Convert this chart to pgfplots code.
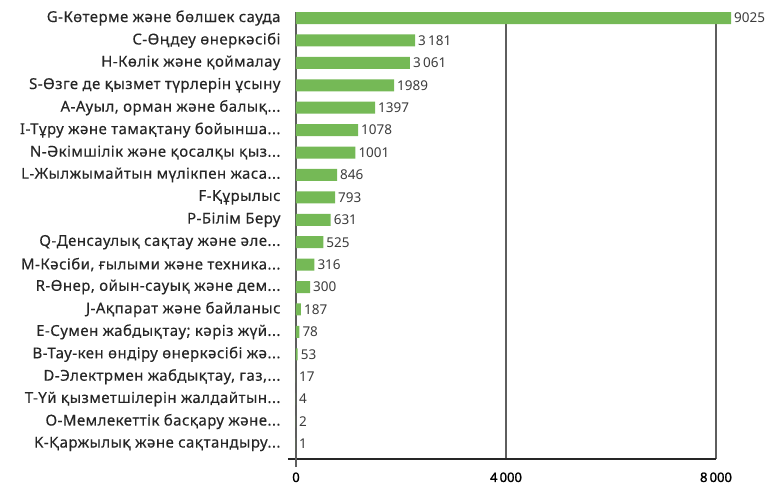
\documentclass[border=0pt]{standalone}
\usepackage{fontspec}
\setmainfont{Noto Sans}
\newfontfamily\catfont[LetterSpace=3, FakeBold=0.3]{Noto Sans}
\newfontfamily\tickfont[FakeBold=1.5]{Noto Sans}
\usepackage{pgfplots}
\pgfplotsset{compat=1.18}
\definecolor{barGreen}{HTML}{75B956}
\definecolor{gridGray}{HTML}{5E5E5E}
\definecolor{labelGray}{HTML}{3C3C3C}
\definecolor{catBlack}{HTML}{262626}
\newcommand{\el}{...}

\begin{document}
\begin{tikzpicture}
\begin{axis}[
  at={(0,0)}, anchor=south west,
  scale only axis,
  width=420pt, height=447pt,
  xmin=0, xmax=8000,
  ymin=-0.67, ymax=19.27,
  xbar, bar width=12pt, bar shift=0pt,
  axis x line*=bottom, axis y line*=left,
  x axis line style={black!85, line width=1.1pt, -, shorten <=-8pt},
  y axis line style={gridGray, line width=1.1pt, -, shorten <=-8pt},
  xtick={0,4000,8000},
  xticklabels={0, 4\,000, 8\,000},
  xticklabel style={font=\tickfont\fontsize{13}{13}\selectfont, text=black, yshift=-10pt},
  ytick={0,1,2,3,4,5,6,7,8,9,10,11,12,13,14,15,16,17,18,19},
  yticklabels={
    {K-Қаржылық және сақтандыру\el},
    {O-Мемлекеттік басқару және\el},
    {T-Үй қызметшілерін жалдайтын\el},
    {D-Электрмен жабдықтау, газ,\el},
    {B-Тау-кен өндіру өнеркәсібі жә\el},
    {E-Сумен жабдықтау; кәріз жүй\el},
    {J-Ақпарат және байланыс},
    {R-Өнер, ойын-сауық және дем\el},
    {M-Кәсіби, ғылыми және техника\el},
    {Q-Денсаулық сақтау және әле\el},
    {P-Білім Беру},
    {F-Құрылыс},
    {L-Жылжымайтын мүлікпен жаса\el},
    {N-Әкімшілік және қосалқы қыз\el},
    {I-Тұру және тамақтану бойынша\el},
    {A-Ауыл, орман және балық\el},
    {S-Өзге де қызмет түрлерін ұсыну},
    {H-Көлік және қоймалау},
    {C-Өңдеу өнеркәсібі},
    {G-Көтерме және бөлшек сауда}
  },
  yticklabel style={font=\catfont\fontsize{15}{15}\selectfont, text=catBlack, xshift=-12pt},
  major tick length=0pt,
  xmajorgrids,
  grid style={gridGray, line width=1.1pt},
  clip=false,
  nodes near coords,
  point meta=explicit symbolic,
  every node near coord/.append style={anchor=west, inner xsep=3pt,
    font=\fontsize{13.5}{13.5}\selectfont, text=labelGray},
]
\addplot[fill=barGreen, draw=none] coordinates {
  (8286,19) [9025]
  (2267,18) [3\,181]
  (2171,17) [3\,061]
  (1867,16) [1989]
  (1505,15) [1397]
  (1181,14) [1078]
  (1130,13) [1001]
  (781,12)  [846]
  (743,11)  [793]
  (659,10)  [631]
  (520,9)   [525]
  (349,8)   [316]
  (267,7)   [300]
  (95,6)    [187]
  (63,5)    [78]
  (32,4)    [53]
  (0,3)     [17]
  (0,2)     [4]
  (0,1)     [2]
  (0,0)     [1]
};
\end{axis}
\pgfresetboundingbox
\path (-296pt,-31pt) rectangle (471pt,459pt);
\end{tikzpicture}
\end{document}
